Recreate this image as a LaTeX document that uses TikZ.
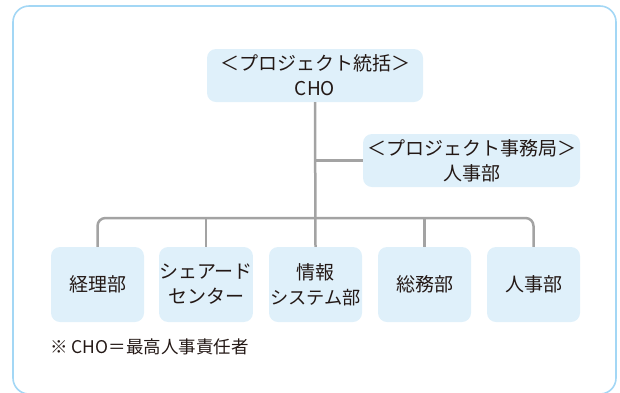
\documentclass[tikz,border=0pt]{standalone}
\usepackage{fontspec}
\setmainfont{Noto Sans CJK JP}
\usetikzlibrary{positioning}
\definecolor{framec}{HTML}{A3D7F5}
\definecolor{boxc}{HTML}{DFF0FA}
\definecolor{linec}{HTML}{A3A3A3}
\definecolor{textc}{HTML}{231815}
\begin{document}
\begin{tikzpicture}[x=1pt,y=-1pt,
  orgbox/.style={fill=boxc, rounded corners=9pt, inner sep=0pt, align=center, text=textc, font=\fontsize{19}{25}\selectfont},
  conn/.style={draw=linec, line width=2.5pt}]
\useasboundingbox (0,0) rectangle (620,392);
\draw[framec, line width=1.6pt, rounded corners=16pt] (13,6) rectangle (616,394);
\node[orgbox, minimum width=216pt, minimum height=53pt] (top) at (315,75.5) {＜プロジェクト統括＞\\CHO};
\node[orgbox, minimum width=217pt, minimum height=53pt] (sec) at (471.5,160.5) {＜プロジェクト事務局＞\\人事部};
\foreach \n/\x/\t in {b1/97.5/経理部, b2/206/{シェアード\\センター}, b3/315.5/{情報\\{\fontsize{18.2}{25}\selectfont システム部}}, b4/424.5/総務部, b5/533.5/人事部}{
  \node[orgbox, minimum width=93pt, minimum height=75pt] (\n) at (\x,284.5) {\t};
}
\coordinate (j1) at (top.south |- sec.west);
\coordinate (bus) at (top.south |- 0,218);
\draw[conn] (top.south) -- (b3.north);
\draw[conn] (j1) -- (sec.west);
\draw[conn, rounded corners=8pt] (b1.north) -- (b1.north |- bus) -- (b5.north |- bus) -- (b5.north);
\draw[conn] (b2.north |- bus) -- (b2.north);
\draw[conn] (b4.north |- bus) -- (b4.north);
\node[anchor=west, text=textc, font=\fontsize{17.5}{20}\selectfont, inner sep=0pt] (note) at (50,347) {※ CHO＝最高人事責任者};
\end{tikzpicture}
\end{document}
